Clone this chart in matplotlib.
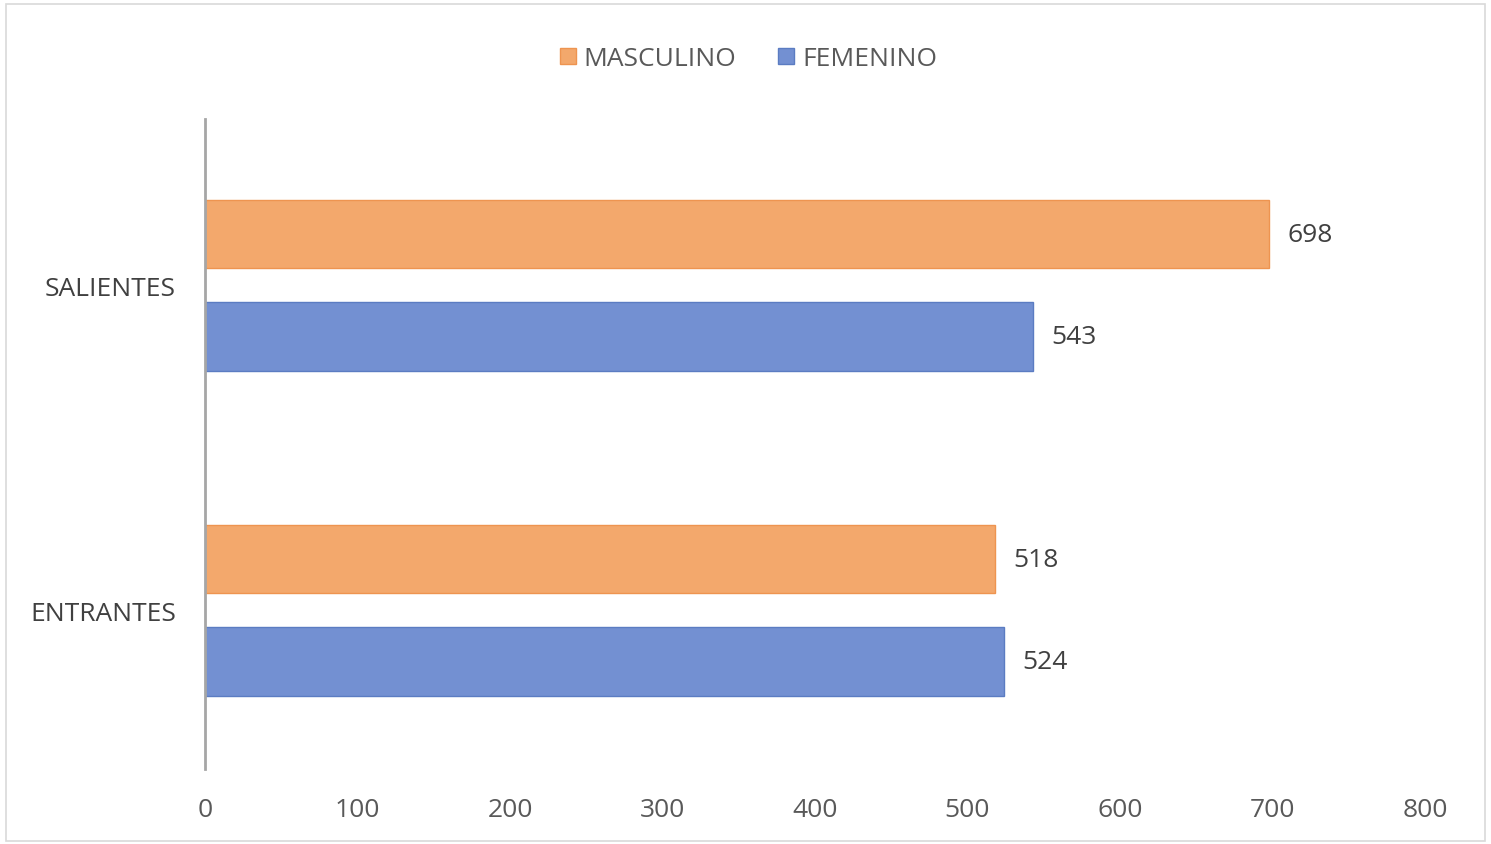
import matplotlib.pyplot as plt
import matplotlib.patches as patches
import numpy as np

# data
categories = ["ENTRANTES", "SALIENTES"]
masculino = [518, 698]
femenino = [524, 543]
series_names = ["MASCULINO", "FEMENINO"]
x_ticks = [0, 100, 200, 300, 400, 500, 600, 700, 800]

plt.rcParams['font.family'] = ['Open Sans', 'DejaVu Sans']

fig = plt.figure(figsize=(14.91, 8.45), dpi=100)
ax = fig.add_axes([0.1375, 0.0888, 0.8182, 0.7692])

# light frame around the whole chart
fig.patches.append(patches.Rectangle((0.004, 0.004), 0.992, 0.99, transform=fig.transFigure,
                                     fill=False, edgecolor='#d9d9d9', linewidth=1.2))

y = np.arange(len(categories))
h = 0.21
off = 0.157
orange = '#F3A86C'
blue = '#7390D2'
b1 = ax.barh(y + off, masculino, height=h, color=orange, edgecolor='#EE9450', linewidth=1, label=series_names[0])
b2 = ax.barh(y - off, femenino, height=h, color=blue, edgecolor='#5B7CC2', linewidth=1, label=series_names[1])

for bars in (b1, b2):
    for rect in bars:
        w = rect.get_width()
        ax.text(w + 12, rect.get_y() + rect.get_height() / 2, f"{int(w)}",
                va='center', ha='left', fontsize=19, color='#404040')

ax.set_xlim(0, 800)
ax.set_ylim(-0.488, 1.512)
ax.set_xticks(x_ticks)
ax.set_xticklabels([str(t) for t in x_ticks], fontsize=19, color='#595959')
ax.set_yticks(y)
ax.set_yticklabels(categories, fontsize=19, color='#404040')
ax.tick_params(axis='both', length=0)
ax.tick_params(axis='x', pad=20)
ax.tick_params(axis='y', pad=21)

for s in ['top', 'right', 'bottom']:
    ax.spines[s].set_visible(False)
ax.spines['left'].set_color('#a6a6a6')
ax.spines['left'].set_linewidth(2)

fig.legend(handles=[b1, b2], loc='upper center', bbox_to_anchor=(0.502, 0.972), ncol=2,
           frameon=False, fontsize=19, handlelength=0.6, handleheight=0.6,
           handletextpad=0.3, columnspacing=1.6, labelcolor='#595959')

fig.savefig("out.png", dpi=100)
